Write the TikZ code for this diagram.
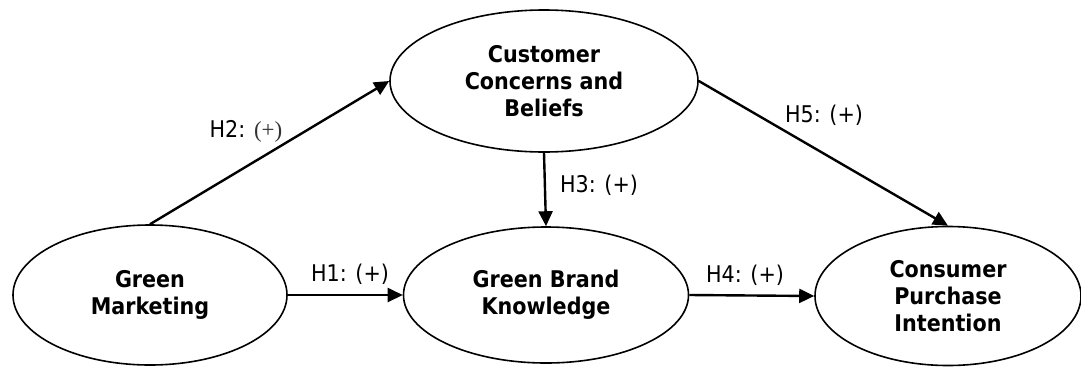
\documentclass[tikz,border=0pt]{standalone}
\usepackage{fontspec}
\setmainfont{DejaVu Sans Condensed}
\newfontfamily\serifpart{Liberation Serif}
\usetikzlibrary{shapes.geometric,arrows.meta}
\begin{document}
\begin{tikzpicture}[x=1pt,y=-1pt,
  construct/.style={ellipse,draw,line width=1.6pt,inner sep=0pt,align=center,
    font=\fontsize{23}{27}\selectfont\bfseries},
  link/.style={line width=2.4pt,-{Triangle[length=15pt,width=14pt]}},
  hyp/.style={anchor=base,inner sep=0pt,font=\fontsize{23}{27}\selectfont}]
\useasboundingbox (0,0) rectangle (1081,370);
\node[construct,minimum width=274pt,minimum height=140pt] (gm) at (150,295) {Green\\Marketing};
\node[construct,minimum width=308pt,minimum height=142pt] (ccb) at (544,81) {Customer\\Concerns and\\Beliefs};
\node[construct,minimum width=285pt,minimum height=136pt] (gbk) at (546,295) {Green Brand\\Knowledge};
\node[construct,minimum width=266pt,minimum height=139pt] (cpi) at (948,296) {Consumer\\Purchase\\Intention};
\draw[link] (gm.east) -- (gbk.west);
\draw[link] (gm.north) -- (ccb.west);
\draw[link] (ccb.south) -- (gbk.north);
\draw[link] (gbk.east) -- (cpi.west);
\draw[link] (ccb.east) -- (cpi.north);
\node[hyp] (h1) at (350,281) {H1: (+)};
\node[hyp] (h2) at (246,137) {H2: {\serifpart\color{black!80}(+)}};
\node[hyp] (h3) at (599,192) {H3: (+)};
\node[hyp] (h4) at (745,282) {H4: (+)};
\node[hyp] (h5) at (824,122) {H5: (+)};
\end{tikzpicture}
\end{document}
